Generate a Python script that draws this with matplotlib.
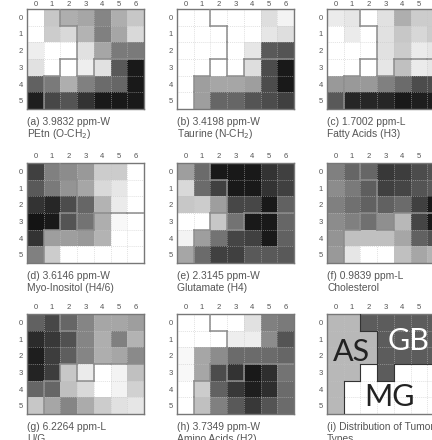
import numpy as np
import matplotlib
matplotlib.use("Agg")
import matplotlib.pyplot as plt

plt.rcParams['font.family'] = ['Liberation Sans', 'DejaVu Sans']

col_labels = ['0', '1', '2', '3', '4', '5', '6']
row_labels = ['0', '1', '2', '3', '4', '5']

panel_a = [[1.00, .78, .68, .65, .52, .68, .78],
           [1.00, .80, .85, .70, .50, .65, .85],
           [.93, 1.00, 1.00, .88, .65, .48, .48],
           [.88, 1.00, 1.00, .93, .88, .35, .10],
           [.38, .48, .68, .50, .42, .40, .10],
           [.12, .28, .33, .20, .10, .10, .10]]
panel_b = [[1, 1, 1, 1, 1, .87, .95],
           [1, 1, 1, 1, 1, .90, .87],
           [1, 1, 1, 1, .90, .35, .33],
           [1, 1, 1, 1, .87, .30, .10],
           [1, .62, .65, .65, .62, .30, .10],
           [1, .62, .40, .40, .33, .30, .25]]
panel_c = [[.92, .90, 1, .88, .68, .80, .80],
           [1, .92, 1, .88, .78, .84, .80],
           [1, 1, 1, .88, .80, .92, .90],
           [1, 1, 1, .90, .75, .92, .90],
           [.60, .60, .60, .50, .42, .30, .30],
           [.35, .15, .15, .15, .10, .12, .12]]
panel_d = [[.25, .50, .55, .60, .80, .80, 1],
           [.35, .48, .58, .65, .85, .90, 1],
           [.20, .15, .30, .40, .70, .92, 1],
           [.08, .10, .33, .45, .68, .97, 1],
           [.20, .62, .62, .60, .70, 1, 1],
           [.50, .80, 1, 1, 1, 1, 1]]
panel_e = [[.62, .42, .10, .10, .10, .20, .25],
           [.85, .42, .25, .10, .10, .20, .25],
           [.78, .80, .62, .28, .28, .10, .38],
           [1, 1, .78, .45, .10, .10, .40],
           [.95, .62, .45, .27, .25, .10, .38],
           [.65, .42, .25, .25, .35, .35, .35]]
panel_f = [[.50, .40, .40, .22, .24, .30, .32],
           [.55, .48, .37, .25, .27, .33, .35],
           [.50, .44, .38, .38, .42, .25, .10],
           [.55, .50, .44, .56, .72, .27, .10],
           [.58, .75, .75, .75, .65, .38, .32],
           [.60, .90, 1, 1, .75, .65, .70]]
panel_g = [[.38, .28, .40, .52, .65, .65, .62],
           [.17, .22, .32, .52, .68, .50, .70],
           [.12, .24, .37, .52, .68, .65, .54],
           [.14, .24, .78, .92, 1, .95, .75],
           [.40, .40, .75, .85, 1, .95, .82],
           [.78, .65, .52, .67, .80, .88, .90]]
panel_h = [[1, 1, 1, 1, .88, .50, .48],
           [1, 1, 1, .93, .93, .55, .33],
           [.97, .65, .55, .42, .42, .42, .40],
           [.97, .65, .30, .20, .10, .18, .45],
           [1, .80, .38, .22, .12, .18, .42],
           [1, .75, .50, .35, .22, .33, .42]]

tumor_types = [['AS', 'AS', 'GB', 'GB', 'GB', 'GB', 'GB'],
               ['AS', 'AS', 'AS', 'GB', 'GB', 'GB', 'GB'],
               ['AS', 'AS', 'AS', 'GB', 'GB', 'GB', 'GB'],
               ['AS', 'AS', 'MG', 'GB', 'MG', 'MG', 'MG'],
               ['AS', 'MG', 'MG', 'MG', 'MG', 'MG', 'MG'],
               ['AS', 'MG', 'MG', 'MG', 'MG', 'MG', 'MG']]
type_grey = {'AS': .72, 'GB': .36, 'MG': 1.0}

captions = [
    ('(a) 3.9832 ppm-W', 'PEtn (O-CH$_2$)'),
    ('(b) 3.4198 ppm-W', 'Taurine (N-CH$_2$)'),
    ('(c) 1.7002 ppm-L', 'Fatty Acids (H3)'),
    ('(d) 3.6146 ppm-W', 'Myo-Inositol (H4/6)'),
    ('(e) 2.3145 ppm-W', 'Glutamate (H4)'),
    ('(f) 0.9839 ppm-L', 'Cholesterol'),
    ('(g) 6.2264 ppm-L', 'U/G'),
    ('(h) 3.7349 ppm-W', 'Amino Acids (H2)'),
    ('(i) Distribution of Tumor', 'Types'),
]

W, H = 432, 440
fig = plt.figure(figsize=(W / 100, H / 100), dpi=100, facecolor='white')

xs = [27, 177, 327]
ys = [9, 163, 314]
PW, PH = 117, 100
TXT = '#555555'

type_arr = np.array(tumor_types)
panels = [panel_a, panel_b, panel_c, panel_d, panel_e, panel_f, panel_g, panel_h,
          [[type_grey[t] for t in row] for row in tumor_types]]

def draw_contours(ax, color, lw):
    nr, nc = type_arr.shape
    for r in range(nr):
        for c in range(nc):
            if c + 1 < nc and type_arr[r, c] != type_arr[r, c + 1]:
                ax.plot([c + 1, c + 1], [r, r + 1], color=color, lw=lw, solid_capstyle='projecting', zorder=4)
            if r + 1 < nr and type_arr[r, c] != type_arr[r + 1, c]:
                ax.plot([c, c + 1], [r + 1, r + 1], color=color, lw=lw, solid_capstyle='projecting', zorder=4)

for i, vals in enumerate(panels):
    px, py = xs[i % 3], ys[i // 3]
    ax = fig.add_axes([px / W, 1 - (py + PH) / H, PW / W, PH / H])
    arr = np.array(vals, dtype=float)
    ax.pcolormesh(np.arange(8), np.arange(7), arr, cmap='gray', vmin=0, vmax=1,
                  edgecolors='none', zorder=1)
    ax.set_xlim(0, 7)
    ax.set_ylim(6, 0)
    ax.xaxis.tick_top()
    ax.set_xticks(np.arange(7) + .5, col_labels)
    ax.set_yticks(np.arange(6) + .5, row_labels)
    ax.tick_params(axis='y', length=0, labelsize=5.5, labelcolor=TXT, pad=3)
    ax.tick_params(axis='x', length=0, labelsize=5.5, labelcolor=TXT, pad=.5 if i < 3 else 2.5)
    for x in range(1, 7):
        ax.axvline(x, color='#c4c4c4', lw=.4, ls=(0, (1.5, 2)), zorder=2)
    for y in range(1, 6):
        ax.axhline(y, color='#c4c4c4', lw=.4, ls=(0, (1.5, 2)), zorder=2)
    draw_contours(ax, '#333333' if i == 8 else '#8c8c8c', .8 if i == 8 else 1.1)
    for s in ax.spines.values():
        s.set_color('#777777')
        s.set_linewidth(1.0)
    l1, l2 = captions[i]
    fig.text(px / W, 1 - (py + 113) / H, l1, fontsize=7.4, color=TXT, va='center')
    fig.text(px / W, 1 - (py + 124.5) / H, l2, fontsize=7.4, color=TXT, va='center', clip_on=True)
    if i == 8:
        ax.text(1.45, 2.25, 'AS', fontsize=22, color='#222222', ha='center', va='center',
                family='Lato', zorder=5)
        ax.text(4.85, 1.6, 'GB', fontsize=22, color='white', ha='center', va='center',
                family='Lato', zorder=5)
        ax.text(3.75, 4.95, 'MG', fontsize=22, color='#222222', ha='center', va='center',
                family='Lato', zorder=5)

fig.savefig('out.png', dpi=100, facecolor='white')
